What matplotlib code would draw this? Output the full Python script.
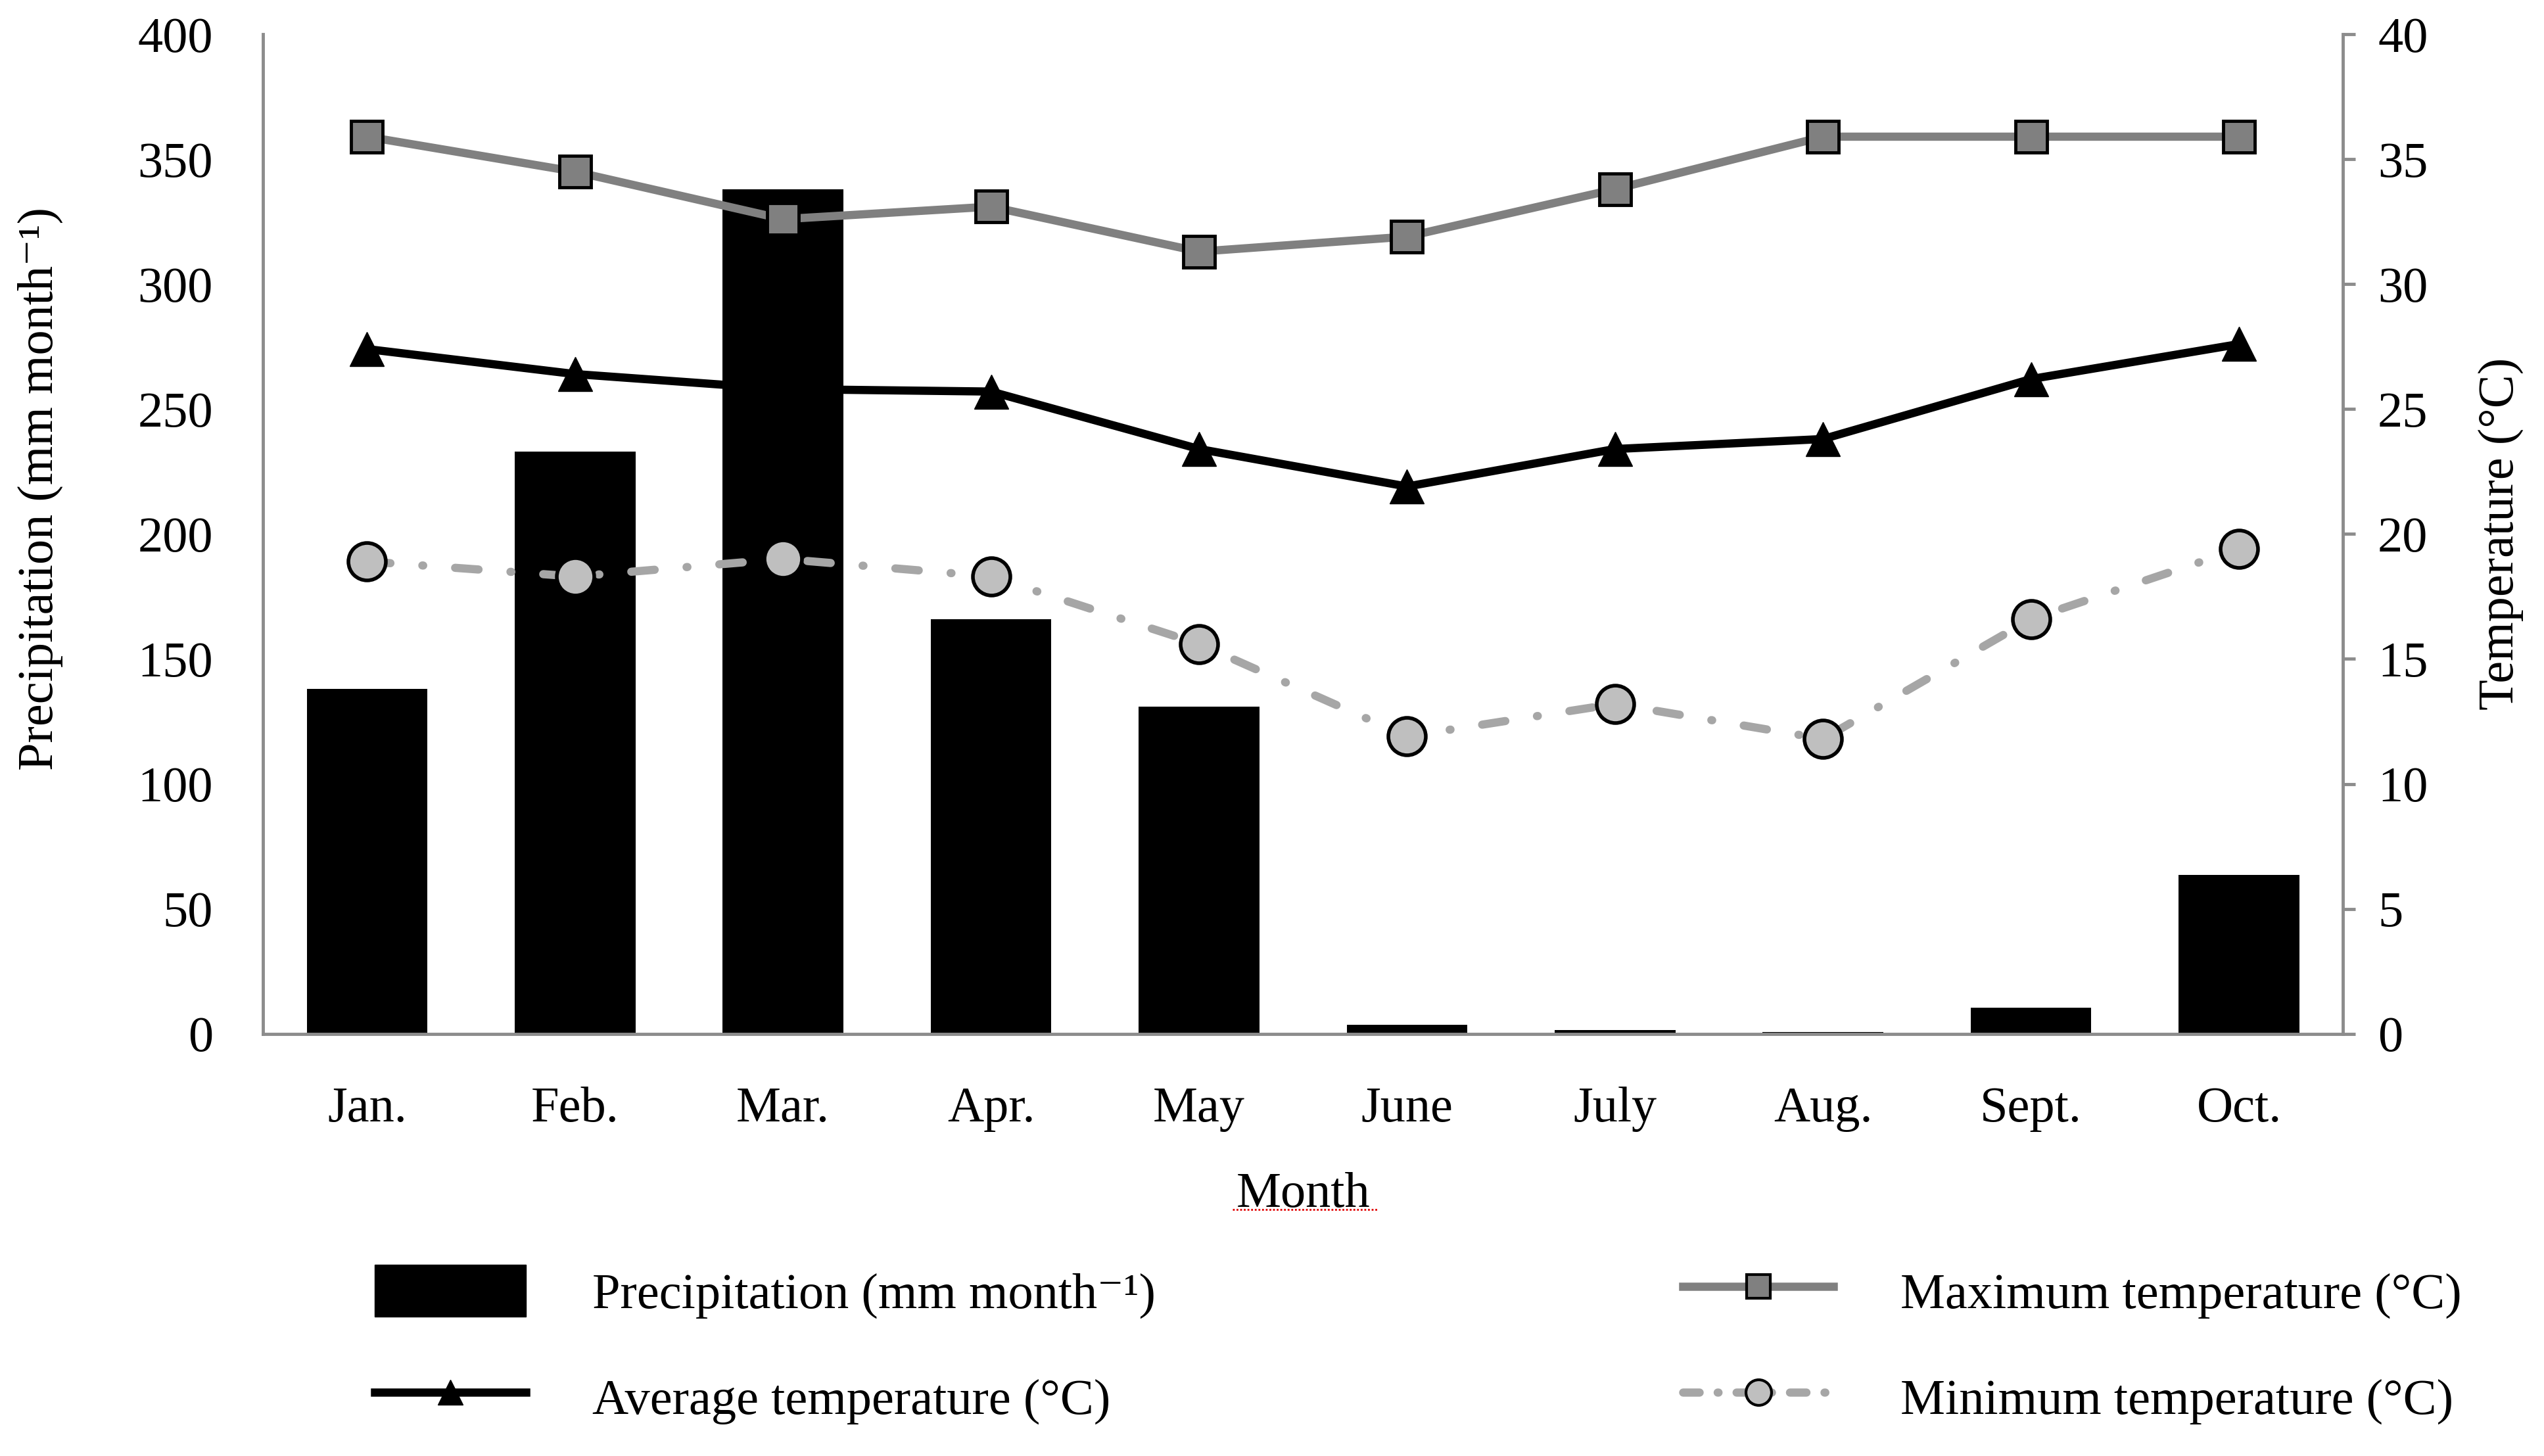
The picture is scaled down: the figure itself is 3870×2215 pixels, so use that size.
import matplotlib
matplotlib.use('Agg')
import numpy as np
from matplotlib import pyplot as plt
from matplotlib.lines import Line2D
from matplotlib.patches import Patch

# ================= 数据 =================
months = ['Jan.', 'Feb.', 'Mar.', 'Apr.', 'May', 'June', 'July', 'Aug.', 'Sept.', 'Oct.']
precipitation = [138, 233, 338, 166, 131, 3.5, 1.5, 0.6, 10.5, 63.5]
temp_max = [35.9, 34.5, 32.6, 33.1, 31.3, 31.9, 33.8, 35.9, 35.9, 35.9]
temp_avg = [27.4, 26.4, 25.8, 25.7, 23.4, 21.9, 23.4, 23.8, 26.2, 27.6]
temp_min = [18.9, 18.3, 19.0, 18.3, 15.6, 11.9, 13.2, 11.8, 16.6, 19.4]

plt.rcParams['font.family'] = ['Liberation Serif', 'DejaVu Serif']
FS = 55
AXIS_GREY = '#8c8c8c'
LW = 9
MIN_DASH = (0, (2.85, 3.9, 0.1, 3.9))

fig = plt.figure(figsize=(38.7, 22.15), dpi=100)
ax = fig.add_axes([0.1034, 0.290, 0.8176, 0.6865])
ax2 = ax.twinx()

x = np.arange(len(months))

# --- 降水柱状图 ---
ax.bar(x, precipitation, width=0.58, color='black', zorder=2)
ax.set_ylim(0, 400)
ax.set_yticks(np.arange(0, 401, 50))
ax.set_xlim(-0.5, len(months) - 0.5)
ax.set_xticks(x)
ax.set_xticklabels(months)
ax.tick_params(axis='x', length=0, pad=58, labelsize=FS)
ax.tick_params(axis='y', length=0, pad=55, labelsize=FS)
ax.set_ylabel('Precipitation (mm month⁻¹)', fontsize=FS)
ax.yaxis.set_label_coords(-0.096, 0.545)
ax.set_xlabel('Month', fontsize=FS, labelpad=44)

# --- 温度折线 ---
ax2.plot(x, temp_max, color='#808080', lw=LW, marker='s', markersize=34,
         markerfacecolor='#808080', markeredgecolor='black', markeredgewidth=3.5, zorder=3)
ax2.plot(x, temp_avg, color='black', lw=LW, marker='^', markersize=37,
         markerfacecolor='black', markeredgecolor='black', markeredgewidth=1, zorder=3)
ax2.plot(x, temp_min, color='#a6a6a6', lw=LW, linestyle=MIN_DASH,
         dash_capstyle='round', marker='o', markersize=41,
         markerfacecolor='#bfbfbf', markeredgecolor='black', markeredgewidth=4, zorder=3)
ax2.set_ylim(0, 40)
ax2.set_yticks(np.arange(0, 41, 5))
ax2.tick_params(axis='y', length=14, width=3.5, color=AXIS_GREY, pad=24, labelsize=FS)
ax2.set_ylabel('Temperature (°C)', fontsize=FS, labelpad=55)

for a in (ax, ax2):
    a.spines['top'].set_visible(False)
    for s in ('left', 'right', 'bottom'):
        a.spines[s].set_color(AXIS_GREY)
        a.spines[s].set_linewidth(3.5)
ax.spines['right'].set_visible(False)
ax2.spines['left'].set_visible(False)
ax2.spines['bottom'].set_visible(False)

# Month 下面的红色拼写波浪线
ax.plot([0.466, 0.536], [-0.176, -0.176], transform=ax.transAxes, clip_on=False,
        color='#e00000', lw=2, linestyle=(0, (1, 1)))

# ================= 图例 =================
handles = [
    Patch(facecolor='black', edgecolor='black'),
    Line2D([], [], color='black', lw=LW, marker='^', markersize=28),
    Line2D([], [], color='#808080', lw=LW, marker='s', markersize=26,
           markerfacecolor='#808080', markeredgecolor='black', markeredgewidth=3),
    Line2D([], [], color='#a6a6a6', lw=LW, linestyle=(0, (2.0, 2.2, 0.1, 2.2)),
           dash_capstyle='round', marker='o', markersize=28,
           markerfacecolor='#bfbfbf', markeredgecolor='black', markeredgewidth=3),
]
labels = ['Precipitation (mm month⁻¹)', 'Average temperature (°C)',
          'Maximum temperature (°C)', 'Minimum temperature (°C)']
fig.legend(handles, labels, loc='center', bbox_to_anchor=(0.5575, 0.0764), ncol=2,
           frameon=False, fontsize=FS, handlelength=3.0, handleheight=1.2,
           handletextpad=1.33, columnspacing=10.5, labelspacing=1.05)

plt.savefig('out.png', dpi=100)
